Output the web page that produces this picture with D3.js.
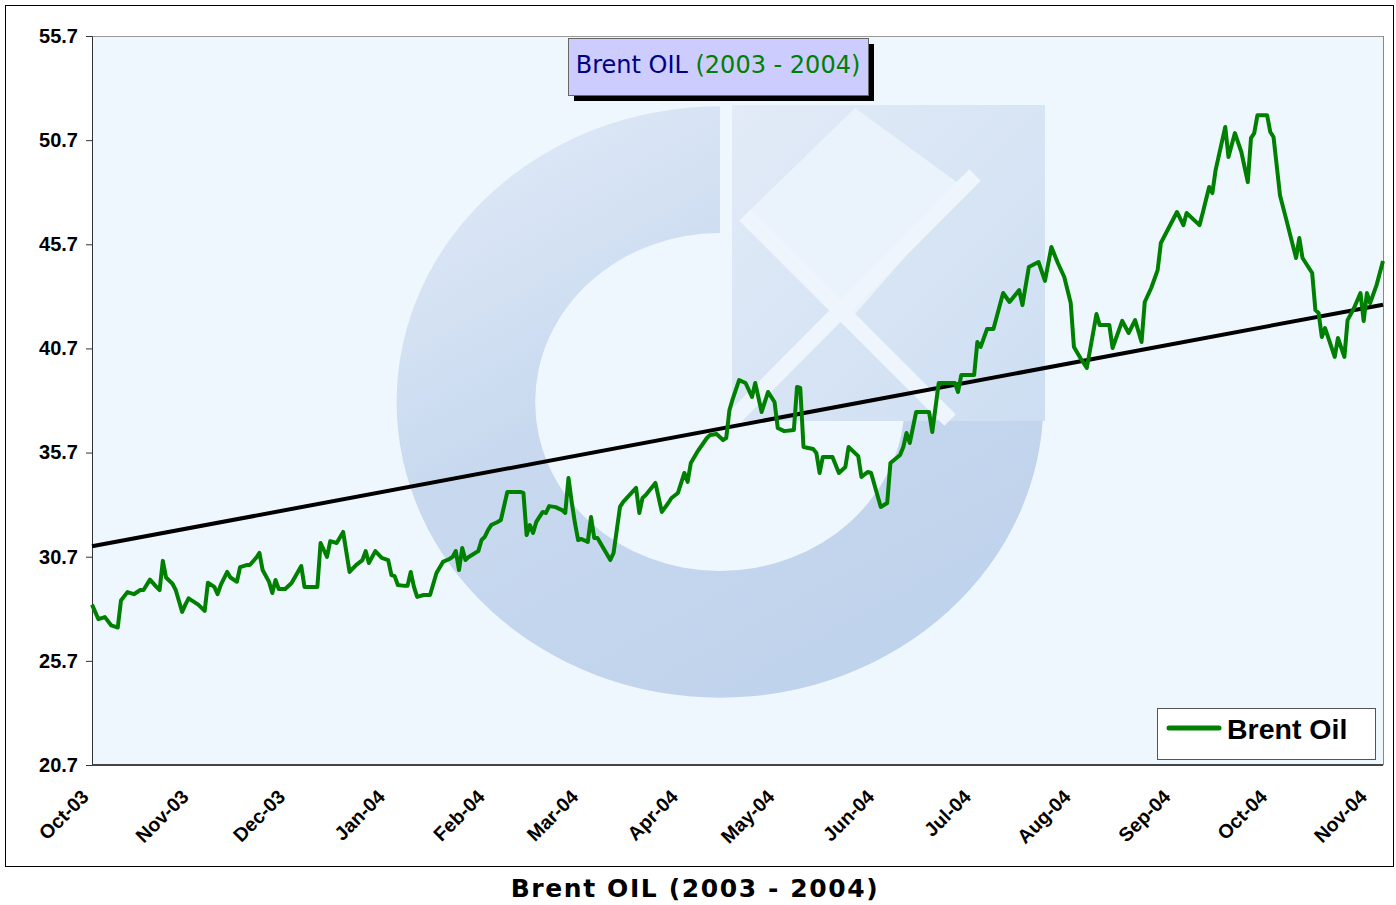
<!DOCTYPE html>
<html>
<head>
<meta charset="utf-8">
<script src="https://cdn.jsdelivr.net/npm/d3@7"></script>
<style>
  body { margin: 0; background: #fff; }
</style>
</head>
<body>
<svg id="chart" width="1396" height="905"></svg>
<script>
/* data */
var dates = [
  "2003-10-01","2003-10-03","2003-10-05","2003-10-07","2003-10-09","2003-10-10","2003-10-12","2003-10-14","2003-10-16","2003-10-17",
  "2003-10-19","2003-10-21","2003-10-22","2003-10-23","2003-10-24","2003-10-26","2003-10-27","2003-10-29","2003-10-30","2003-10-31",
  "2003-11-03","2003-11-05","2003-11-06","2003-11-08","2003-11-09","2003-11-10","2003-11-12","2003-11-13","2003-11-15","2003-11-16",
  "2003-11-18","2003-11-19","2003-11-21","2003-11-22","2003-11-23","2003-11-25","2003-11-26","2003-11-27","2003-11-28","2003-11-30",
  "2003-12-02","2003-12-05","2003-12-06","2003-12-10","2003-12-11","2003-12-13","2003-12-14","2003-12-16","2003-12-18","2003-12-20",
  "2003-12-22","2003-12-24","2003-12-25","2003-12-26","2003-12-28","2003-12-30","2004-01-01","2004-01-02","2004-01-03","2004-01-04",
  "2004-01-06","2004-01-07","2004-01-08","2004-01-09","2004-01-10","2004-01-12","2004-01-14","2004-01-16","2004-01-18","2004-01-20",
  "2004-01-21","2004-01-22","2004-01-23","2004-01-24","2004-01-25","2004-01-26","2004-01-28","2004-01-29","2004-01-30","2004-01-31",
  "2004-02-01","2004-02-02","2004-02-04","2004-02-05","2004-02-07","2004-02-11","2004-02-12","2004-02-13","2004-02-14","2004-02-15",
  "2004-02-16","2004-02-18","2004-02-19","2004-02-20","2004-02-22","2004-02-24","2004-02-25","2004-02-26","2004-02-27","2004-02-28",
  "2004-02-29","2004-03-01","2004-03-03","2004-03-04","2004-03-05","2004-03-06","2004-03-10","2004-03-11","2004-03-13","2004-03-14",
  "2004-03-18","2004-03-19","2004-03-20","2004-03-21","2004-03-24","2004-03-26","2004-03-28","2004-03-29","2004-03-31","2004-04-02",
  "2004-04-03","2004-04-04","2004-04-06","2004-04-09","2004-04-10","2004-04-12","2004-04-14","2004-04-15","2004-04-16","2004-04-17",
  "2004-04-19","2004-04-21","2004-04-23","2004-04-24","2004-04-26","2004-04-28","2004-04-30","2004-05-01","2004-05-03","2004-05-06",
  "2004-05-07","2004-05-08","2004-05-09","2004-05-12","2004-05-13","2004-05-14","2004-05-15","2004-05-18","2004-05-20","2004-05-22",
  "2004-05-23","2004-05-26","2004-05-27","2004-05-29","2004-05-30","2004-06-02","2004-06-04","2004-06-05","2004-06-08","2004-06-09",
  "2004-06-10","2004-06-11","2004-06-13","2004-06-17","2004-06-18","2004-06-20","2004-06-25","2004-06-26","2004-06-27","2004-07-01",
  "2004-07-02","2004-07-03","2004-07-05","2004-07-07","2004-07-10","2004-07-12","2004-07-15","2004-07-16","2004-07-18","2004-07-21",
  "2004-07-23","2004-07-25","2004-07-27","2004-07-29","2004-07-31","2004-08-01","2004-08-03","2004-08-05","2004-08-08","2004-08-09",
  "2004-08-12","2004-08-13","2004-08-16","2004-08-18","2004-08-20","2004-08-22","2004-08-23","2004-08-25","2004-08-27","2004-08-28",
  "2004-09-02","2004-09-04","2004-09-05","2004-09-09","2004-09-10","2004-09-12","2004-09-13","2004-09-14","2004-09-17","2004-09-18",
  "2004-09-20","2004-09-22","2004-09-24","2004-09-25","2004-09-26","2004-09-27","2004-09-30","2004-10-01","2004-10-02","2004-10-04",
  "2004-10-06","2004-10-09","2004-10-10","2004-10-11","2004-10-14","2004-10-15","2004-10-16","2004-10-17","2004-10-18","2004-10-21",
  "2004-10-22","2004-10-24","2004-10-25","2004-10-27","2004-10-29","2004-10-30","2004-10-31","2004-11-01","2004-11-03","2004-11-05"
];

var prices = [
  28.4,27.7,27.8,27.4,27.3,28.6,29.0,28.9,29.1,29.1,
  29.6,29.25,29.1,30.5,29.7,29.4,29.1,28.05,28.4,28.7,
  28.4,28.1,29.45,29.25,28.9,29.35,29.97,29.7,29.5,30.2,
  30.3,30.3,30.65,30.88,30.06,29.49,28.96,29.58,29.15,29.15,
  29.44,30.25,29.25,29.25,31.36,30.69,31.45,31.36,31.89,29.97,
  30.3,30.54,30.97,30.4,30.97,30.64,30.54,29.82,29.77,29.34,
  29.3,29.3,29.97,29.25,28.77,28.86,28.86,29.92,30.45,30.59,
  30.69,30.97,30.06,31.12,30.54,30.69,30.88,30.97,31.5,31.65,
  31.98,32.22,32.37,32.46,33.81,33.81,33.76,31.74,32.22,31.84,
  32.37,32.85,32.8,33.13,33.08,32.94,32.8,34.48,33.33,32.32,
  31.5,31.55,31.41,32.61,31.6,31.6,30.54,30.88,33.09,33.33,
  34.0,32.8,33.52,33.66,34.24,32.85,33.28,33.52,33.76,34.72,
  34.29,35.2,35.73,36.4,36.54,36.59,36.3,36.4,37.74,38.27,
  39.18,39.04,38.37,39.04,37.65,38.61,38.13,36.88,36.73,36.78,
  38.85,38.8,35.97,35.87,35.68,34.72,35.49,35.49,34.72,35.01,
  35.97,35.53,34.53,34.77,34.72,33.09,33.28,35.2,35.58,35.97,
  36.64,36.16,37.65,37.65,36.69,39.04,39.04,38.61,39.42,39.42,
  41.01,40.77,41.63,41.63,43.36,42.93,43.5,42.78,44.61,44.85,
  43.94,45.57,44.8,44.13,42.88,40.77,40.24,39.76,42.35,41.82,
  41.82,40.72,42.02,41.44,42.06,41.01,42.93,43.6,44.46,45.76,
  47.25,46.62,47.2,46.62,47.2,48.45,48.16,49.26,51.33,49.89,
  51.04,50.13,48.69,50.8,51.04,51.9,51.9,51.09,50.85,48.06,
  46.86,45.04,46.0,45.04,44.32,42.54,42.4,41.25,41.68,40.29,
  41.2,40.29,42.06,42.64,43.36,42.02,43.36,42.88,43.74,44.9
];

var yTicks = [20.7, 25.7, 30.7, 35.7, 40.7, 45.7, 50.7, 55.7];
var trendValues = [31.2, 42.8];   // linear trend at first and last date
var seriesName = "Brent Oil";
var titleMain = "Brent OIL";
var titleYears = "(2003 - 2004)";

/* settings */
var W = 1396, H = 905,
    margin = { top: 36, left: 92, right: 13, bottom: 140 },
    innerWidth = W - margin.left - margin.right,
    innerHeight = H - margin.top - margin.bottom,
    green = "#008000",
    arial = "'Liberation Sans', Arial, sans-serif",
    verdana = "'DejaVu Sans', Verdana, sans-serif";

var parse = d3.timeParse("%Y-%m-%d");
var data = dates.map(function (d, i) { return { date: parse(d), value: prices[i] }; });

var xScale = d3.scaleTime()
    .domain([data[0].date, data[data.length - 1].date])
    .range([0, innerWidth]);
var yScale = d3.scaleLinear()
    .domain([yTicks[0], yTicks[yTicks.length - 1]])
    .range([innerHeight, 0]);

var svg = d3.select("#chart");

// outer chart frame
svg.append("rect")
    .attr("x", 5.5).attr("y", 5.5)
    .attr("width", 1388).attr("height", 861)
    .attr("fill", "#fff").attr("stroke", "#000");

var g = svg.append("g")
    .attr("transform", "translate(" + margin.left + "," + margin.top + ")");

/* plot area + watermark logo */
var defs = svg.append("defs");
defs.append("clipPath").attr("id", "plotclip")
  .append("rect").attr("width", innerWidth).attr("height", innerHeight);

var grad = defs.append("linearGradient").attr("id", "ringgrad")
    .attr("x1", "0").attr("y1", "0").attr("x2", "0.6").attr("y2", "1");
grad.append("stop").attr("offset", "0").attr("stop-color", "#e3ecf8");
grad.append("stop").attr("offset", "0.5").attr("stop-color", "#c8d9ef");
grad.append("stop").attr("offset", "1").attr("stop-color", "#c0d3ec");

var sqgrad = defs.append("linearGradient").attr("id", "sqgrad")
    .attr("x1", "0").attr("y1", "0").attr("x2", "1").attr("y2", "1");
sqgrad.append("stop").attr("offset", "0").attr("stop-color", "#e2ebf7");
sqgrad.append("stop").attr("offset", "1").attr("stop-color", "#cddef2");

g.append("rect")
    .attr("width", innerWidth).attr("height", innerHeight)
    .attr("fill", "#eff7fe");

var clip = g.append("g").attr("clip-path", "url(#plotclip)");
var wm = clip.append("g")
    .attr("transform", "translate(" + (720 - margin.left) + "," + (402 - margin.top) + ")");

// the "C" ring, open on the upper right
wm.append("path")
    .attr("d", d3.arc()
        .innerRadius(176).outerRadius(308)
        .startAngle(0).endAngle(-Math.PI * 1.5)())
    .attr("transform", "scale(1.05,0.96)")
    .attr("fill", "url(#ringgrad)");

// square block with the arrow
wm.append("rect")
    .attr("x", 12).attr("y", -297).attr("width", 313).attr("height", 316)
    .attr("fill", "url(#sqgrad)");
wm.append("polygon")
    .attr("points", "25,-187 135,-294 245,-214 130,-82")
    .attr("fill", "#eaf2fb");
[[-20, 50, 255, -227], [25, -187, 230, 18]].forEach(function (l) {
  wm.append("line")
    .attr("x1", l[0]).attr("y1", l[1]).attr("x2", l[2]).attr("y2", l[3])
    .attr("stroke", "#eef5fc").attr("stroke-width", 16);
});

// plot borders
g.append("line").attr("x1", 0).attr("x2", innerWidth).attr("y1", 0.5).attr("y2", 0.5)
    .attr("stroke", "#999");
g.append("line").attr("x1", innerWidth + 0.5).attr("x2", innerWidth + 0.5).attr("y1", 0).attr("y2", innerHeight)
    .attr("stroke", "#888");

/* y axis */
var yAxis = d3.axisLeft(yScale)
    .tickValues(yTicks)
    .tickSize(6)
    .tickPadding(8)
    .tickFormat(d3.format(".1f"));

var yAxisG = g.append("g").attr("class", "y-axis").call(yAxis);
yAxisG.select(".domain").attr("stroke", "#333");
yAxisG.selectAll(".tick line").attr("stroke", "#333");
yAxisG.selectAll("text")
    .style("font-family", arial)
    .style("font-size", "20px")
    .style("font-weight", "bold")
    .attr("fill", "#000");

/* x axis: bottom line and rotated month labels */
g.append("line")
    .attr("x1", 0).attr("x2", innerWidth)
    .attr("y1", innerHeight).attr("y2", innerHeight)
    .attr("stroke", "#444").attr("stroke-width", 2);

var months = d3.timeMonth.range(data[0].date, data[data.length - 1].date);
g.selectAll(".month")
    .data(months)
  .enter().append("text")
    .attr("class", "month")
    .attr("transform", function (d) {
      return "translate(" + (xScale(d) - 2) + "," + (innerHeight + 33) + ") rotate(-45)";
    })
    .attr("text-anchor", "end")
    .style("font-family", arial)
    .style("font-size", "19.5px")
    .style("font-weight", "bold")
    .text(d3.timeFormat("%b-%y"));

/* trend line */
var first = data[0].date, last = data[data.length - 1].date;
g.append("line")
    .attr("x1", xScale(first)).attr("y1", yScale(trendValues[0]))
    .attr("x2", xScale(last)).attr("y2", yScale(trendValues[1]))
    .attr("stroke", "#000").attr("stroke-width", 4);

/* price line */
var line = d3.line()
    .x(function (d) { return xScale(d.date); })
    .y(function (d) { return yScale(d.value); });

g.append("path")
    .datum(data)
    .attr("d", line)
    .attr("fill", "none")
    .attr("stroke", green)
    .attr("stroke-width", 4)
    .attr("stroke-linejoin", "round");

/* inner title box */
var tb = g.append("g").attr("transform", "translate(" + (568 - margin.left) + "," + (38 - margin.top) + ")");
tb.append("rect").attr("x", 6).attr("y", 6).attr("width", 300).attr("height", 57).attr("fill", "#000");
tb.append("rect").attr("x", 0.5).attr("y", 0.5).attr("width", 300).attr("height", 57)
    .attr("fill", "#ccccff").attr("stroke", "#666");
var tt = tb.append("text")
    .attr("x", 150).attr("y", 35)
    .attr("text-anchor", "middle")
    .style("font-family", verdana)
    .style("font-size", "24px");
tt.append("tspan").attr("fill", "#000080").text(titleMain + " ");
tt.append("tspan").attr("fill", green).text(titleYears);

/* legend */
var lg = g.append("g").attr("transform", "translate(" + (1157 - margin.left) + "," + (708 - margin.top) + ")");
lg.append("rect").attr("x", 0.5).attr("y", 0.5).attr("width", 218).attr("height", 51)
    .attr("fill", "#fff").attr("stroke", "#555");
lg.append("line").attr("x1", 12).attr("x2", 62).attr("y1", 20).attr("y2", 20)
    .attr("stroke", green).attr("stroke-width", 5).attr("stroke-linecap", "round");
lg.append("text").attr("x", 70).attr("y", 31)
    .style("font-family", arial)
    .style("font-size", "28.5px")
    .style("font-weight", "bold")
    .text(seriesName);

/* bottom title */
svg.append("text")
    .attr("x", 695).attr("y", 897)
    .attr("text-anchor", "middle")
    .style("font-family", verdana)
    .style("font-size", "25px")
    .style("font-weight", "bold")
    .style("letter-spacing", "1.6px")
    .text(titleMain + " " + titleYears);
</script>
</body>
</html>
